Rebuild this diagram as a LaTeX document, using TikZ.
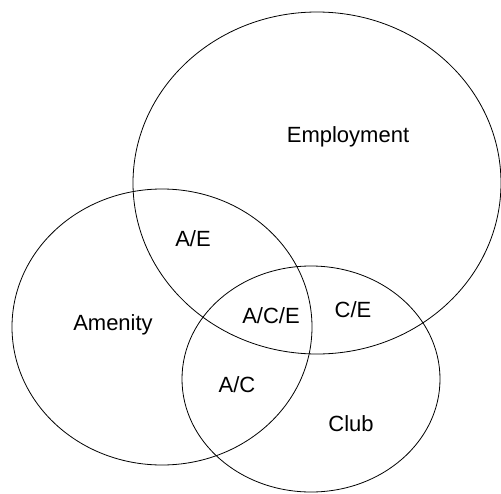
\documentclass[tikz,border=0pt]{standalone}
\usepackage{fontspec}
\setmainfont{Liberation Sans}
\begin{document}
\begin{tikzpicture}[x=1pt,y=-1pt,
  setshape/.style={draw=black,line width=0.8pt},
  lbl/.style={font=\fontsize{22}{25}\selectfont,inner sep=0pt}]
\useasboundingbox (0,0) rectangle (501,493);
\begin{scope}
\clip (0,0) rectangle (501,493);
\draw[setshape] (317,183) ellipse [x radius=184, y radius=171];
\draw[setshape] (162,327) ellipse [x radius=150, y radius=138];
\draw[setshape] (311,379) ellipse [x radius=129, y radius=113];
\end{scope}
\node[lbl] (emp) at (348,137) {Employment};
\node[lbl] (ae) at (193,239) {A/E};
\node[lbl] (am) at (113,325) {Amenity};
\node[lbl] (ace) at (271,316) {A/C/E};
\node[lbl] (ce) at (353,310) {C/E};
\node[lbl] (ac) at (237,385) {A/C};
\node[lbl] (club) at (351,424) {Club};
\end{tikzpicture}
\end{document}
